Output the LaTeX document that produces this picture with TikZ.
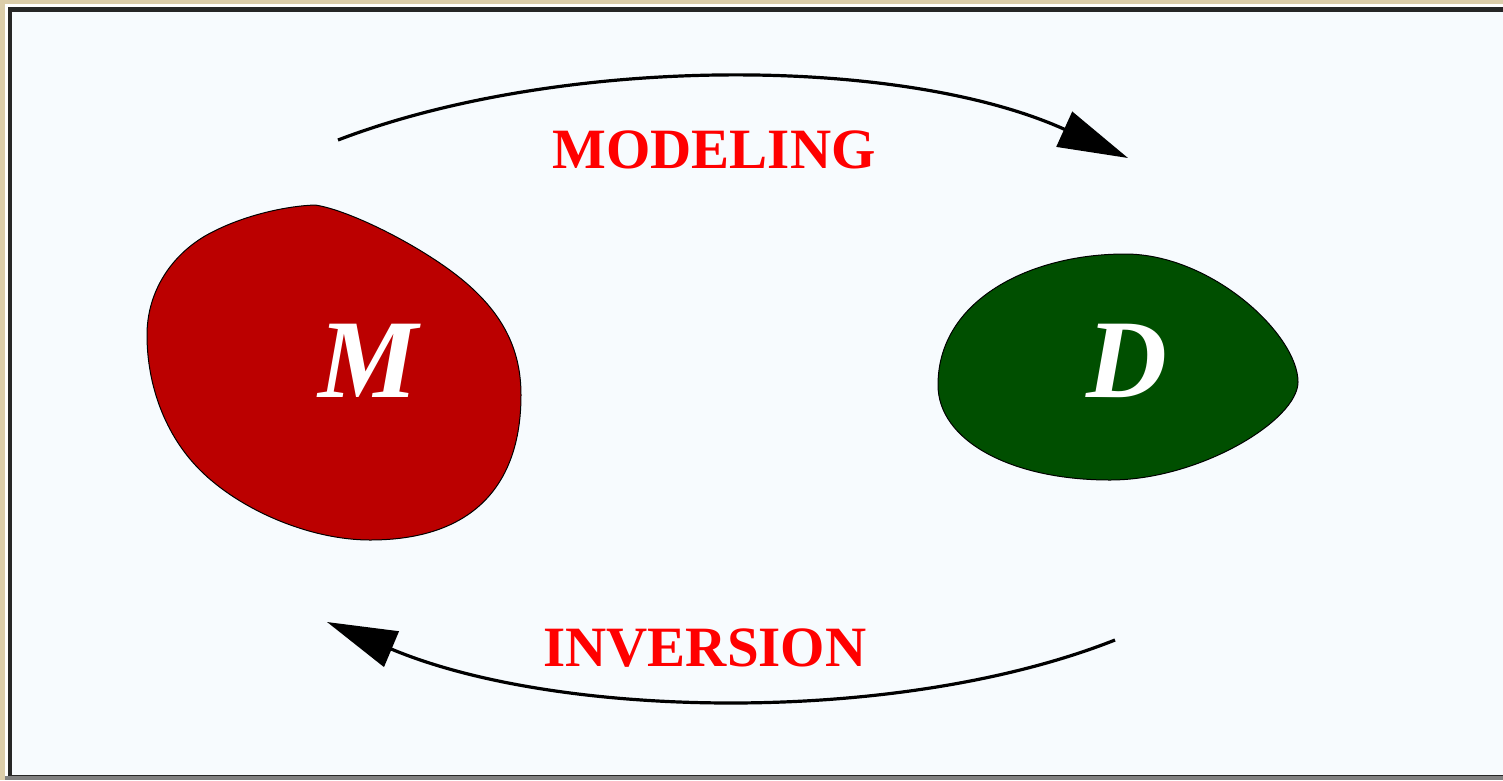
\documentclass[tikz,border=0pt]{standalone}
\usepackage{fontspec}
\setmainfont{Liberation Serif}
\usetikzlibrary{arrows.meta}
\definecolor{tan}{HTML}{DBCDAA}
\definecolor{paper}{HTML}{F7FBFE}
\definecolor{blobred}{HTML}{BB0000}
\definecolor{blobgreen}{HTML}{004F00}
\definecolor{labelred}{HTML}{FF0000}
\tikzset{
  blob/.style={draw=black, line width=1pt},
  flow/.style={line width=3.2pt, -{Triangle[length=70pt,width=38pt]}},
  label/.style={text=labelred, font=\bfseries\fontsize{57}{60}\selectfont, inner sep=0pt, anchor=base},
  letter/.style={text=white, font=\bfseries\itshape\fontsize{112}{112}\selectfont, inner sep=0pt, anchor=base},
}
\begin{document}
\begin{tikzpicture}[x=1pt,y=-1pt]
\useasboundingbox (0,0) rectangle (1503,780);
% frame
\fill[tan] (0,0) rectangle (1503,780);
\fill[white] (5,4) rectangle (1503,780);
\fill[gray] (5,776) rectangle (1503,780);
\fill[black!85] (8,7) rectangle (1503,776);
\fill[paper] (12,12) rectangle (1503,775);
% blobs
\draw[blob, fill=blobred] (315,205)
  .. controls (350,210) and (425,248) .. (465,282)
  .. controls (505,316) and (521,352) .. (521,395)
  .. controls (521,488) and (470,540) .. (370,540)
  .. controls (310,540) and (240,510) .. (200,470)
  .. controls (165,435) and (147,385) .. (147,335)
  .. controls (147,295) and (168,258) .. (205,236)
  .. controls (240,216) and (285,206) .. cycle;
\draw[blob, fill=blobgreen] (1125,254)
  .. controls (1212,254) and (1298,335) .. (1298,382)
  .. controls (1298,420) and (1200,480) .. (1110,480)
  .. controls (1010,480) and (938,440) .. (938,385)
  .. controls (938,300) and (1030,254) .. cycle;
% letters
\node[letter] (M) at (368,397) {M};
\node[letter] (D) at (1127,397) {D};
% arrows
\coordinate (mstart) at (338,140);
\coordinate (dend) at (1128,158);
\coordinate (dstart) at (1115,640);
\coordinate (mend) at (327,622);
\draw[flow] (mstart) .. controls (560,55) and (900,55) .. (dend);
\draw[flow] (dstart) .. controls (900,725) and (560,720) .. (mend);
% labels
\node[label] (modeling) at (714,168) {MODELING};
\node[label] (inversion) at (705,666) {INVERSION};
\end{tikzpicture}
\end{document}
